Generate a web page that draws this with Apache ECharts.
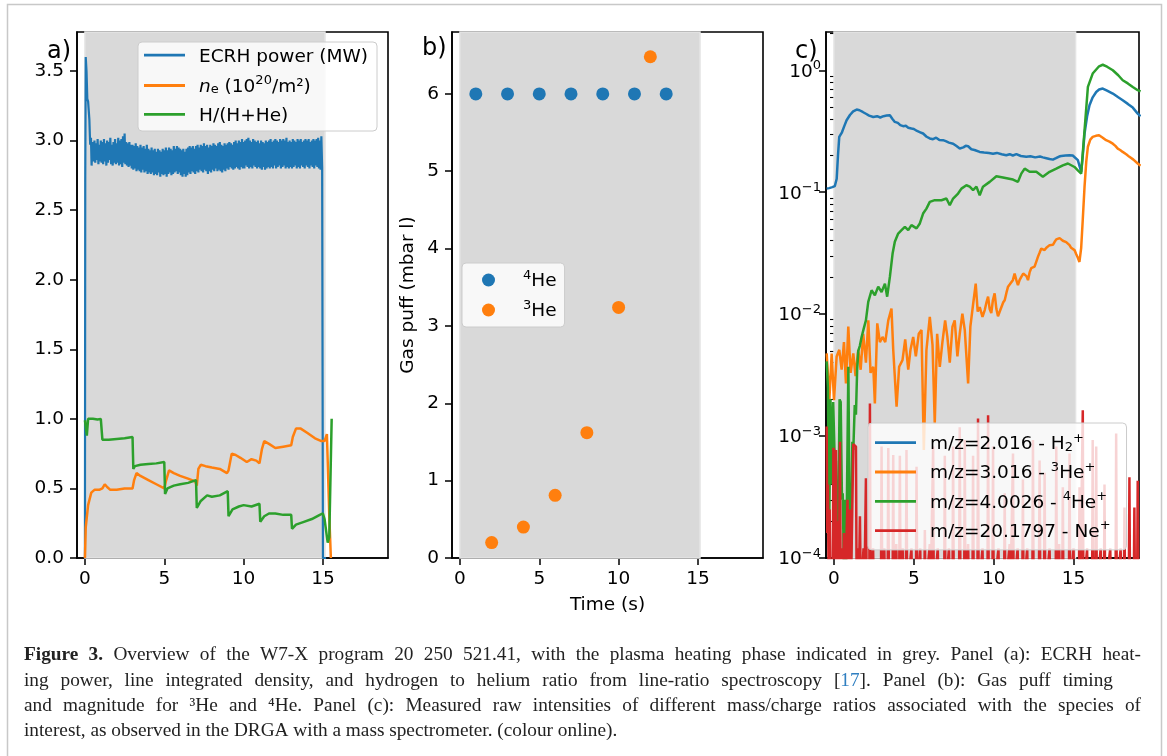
<!DOCTYPE html>
<html><head><meta charset="utf-8">
<script src="https://cdn.jsdelivr.net/npm/echarts@6/dist/echarts.min.js"></script>
<style>html,body{margin:0;padding:0;background:#fff}#c{width:1167px;height:756px}</style>
</head><body><div id="c"></div>
<script>
// ---------------- DATA ----------------
const xTicks = [0, 5, 10, 15];
const yTicksA = [0, 0.5, 1, 1.5, 2, 2.5, 3, 3.5];
const yTicksB = [0, 1, 2, 3, 4, 5, 6];
const yTicksC = [1e-4, 1e-3, 1e-2, 1e-1, 1];
const yMinorC = [2e-4,3e-4,4e-4,5e-4,6e-4,7e-4,8e-4,9e-4,2e-3,3e-3,4e-3,5e-3,6e-3,7e-3,8e-3,9e-3,
                 0.02,0.03,0.04,0.05,0.06,0.07,0.08,0.09,0.2,0.3,0.4,0.5,0.6,0.7,0.8,0.9,2];
const xRange = [-0.5, 19.1];
const yRangeA = [0, 3.78];
const yRangeB = [0, 6.8];
const yRangeC = [1e-4, 2.06];
const heatingPhase = [0, 15.13];

// Panel (a): [time (s), value]
const ecrhPower = [
[0,0],[0.02,2.7],[0.05,3.6],[0.1,3.5],[0.15,3.3],[0.2,3.28],[0.28,3.15],[0.33,2.97],[0.38,3.02],[0.42,2.82],[0.47,2.97],
[0.5,2.99],[0.55,2.85],[0.6,3.0],[0.65,2.84],[0.7,2.98],[0.75,2.86],[0.8,3.01],[0.85,2.83],[0.9,2.97],[0.95,2.85],
[1.0,3.0],[1.05,2.84],[1.1,2.99],[1.15,2.83],[1.2,3.01],[1.25,2.85],[1.3,2.98],[1.35,2.82],[1.4,3.0],[1.45,2.84],
[1.5,2.99],[1.55,2.86],[1.6,3.02],[1.65,2.83],[1.7,2.97],[1.75,2.82],[1.8,2.99],[1.85,2.84],[1.9,3.01],[1.95,2.83],
[2.0,2.98],[2.05,2.84],[2.1,3.02],[2.15,2.82],[2.2,3.0],[2.25,2.83],[2.3,3.01],[2.35,2.81],[2.4,3.03],[2.45,2.84],
[2.5,3.05],[2.55,2.83],[2.6,2.99],[2.65,2.82],[2.7,2.98],[2.75,2.81],[2.8,2.99],[2.85,2.82],[2.9,2.97],[2.95,2.8],
[3.0,2.97],[3.05,2.79],[3.1,2.96],[3.15,2.8],[3.2,2.98],[3.25,2.78],[3.3,2.96],[3.35,2.79],[3.4,2.95],[3.45,2.78],
[3.5,2.97],[3.55,2.77],[3.6,2.95],[3.65,2.79],[3.7,2.96],[3.75,2.77],[3.8,2.94],[3.85,2.78],[3.9,2.97],[3.95,2.76],
[4.0,2.94],[4.05,2.77],[4.1,2.93],[4.15,2.76],[4.2,2.95],[4.25,2.77],[4.3,2.93],[4.35,2.75],[4.4,2.94],[4.45,2.76],
[4.5,2.92],[4.55,2.75],[4.6,2.94],[4.65,2.77],[4.7,2.93],[4.75,2.74],[4.8,2.92],[4.85,2.76],[4.9,2.94],[4.95,2.75],
[5.0,2.93],[5.05,2.76],[5.1,2.95],[5.15,2.74],[5.2,2.93],[5.25,2.76],[5.3,2.95],[5.35,2.77],[5.4,2.94],[5.45,2.75],
[5.5,2.93],[5.55,2.76],[5.6,2.96],[5.65,2.77],[5.7,2.94],[5.75,2.78],[5.8,2.96],[5.85,2.76],[5.9,2.95],[5.95,2.77],
[6.0,2.94],[6.05,2.75],[6.1,2.93],[6.15,2.74],[6.2,2.94],[6.25,2.76],[6.3,2.92],[6.35,2.74],[6.4,2.94],[6.45,2.75],
[6.5,2.95],[6.55,2.77],[6.6,2.96],[6.65,2.76],[6.7,2.95],[6.75,2.78],[6.8,2.96],[6.85,2.77],[6.9,2.94],[6.95,2.76],
[7.0,2.96],[7.05,2.78],[7.1,2.97],[7.15,2.77],[7.2,2.95],[7.25,2.79],[7.3,2.97],[7.35,2.78],[7.4,2.96],[7.45,2.77],
[7.5,2.98],[7.55,2.79],[7.6,2.96],[7.65,2.78],[7.7,2.97],[7.75,2.76],[7.8,2.95],[7.85,2.78],[7.9,2.97],[7.95,2.77],
[8.0,2.96],[8.05,2.79],[8.1,2.98],[8.15,2.78],[8.2,2.97],[8.25,2.8],[8.3,2.96],[8.35,2.78],[8.4,2.98],[8.45,2.79],
[8.5,2.99],[8.55,2.78],[8.6,2.97],[8.65,2.77],[8.7,2.96],[8.75,2.79],[8.8,2.98],[8.85,2.78],[8.9,2.97],[8.95,2.8],
[9.0,2.98],[9.05,2.79],[9.1,2.99],[9.15,2.81],[9.2,2.98],[9.25,2.8],[9.3,2.97],[9.35,2.79],[9.4,2.99],[9.45,2.8],
[9.5,3.0],[9.55,2.81],[9.6,2.98],[9.65,2.8],[9.7,3.0],[9.75,2.79],[9.8,2.99],[9.85,2.81],[9.9,3.01],[9.95,2.8],
[10.0,2.99],[10.05,2.8],[10.1,3.0],[10.15,2.82],[10.2,3.01],[10.25,2.81],[10.3,3.02],[10.35,2.8],[10.4,3.0],[10.45,2.81],
[10.5,2.99],[10.55,2.8],[10.6,3.01],[10.65,2.82],[10.7,3.0],[10.75,2.81],[10.8,2.99],[10.85,2.8],[10.9,3.0],[10.95,2.81],
[11.0,2.98],[11.05,2.8],[11.1,3.0],[11.15,2.79],[11.2,2.99],[11.25,2.81],[11.3,2.98],[11.35,2.79],[11.4,3.0],[11.45,2.8],
[11.5,2.99],[11.55,2.81],[11.6,3.0],[11.65,2.8],[11.7,3.01],[11.75,2.81],[11.8,2.99],[11.85,2.8],[11.9,3.0],[11.95,2.82],
[12.0,3.01],[12.05,2.8],[12.1,3.0],[12.15,2.81],[12.2,2.99],[12.25,2.82],[12.3,3.01],[12.35,2.8],[12.4,3.0],[12.45,2.81],
[12.5,3.01],[12.55,2.82],[12.6,3.0],[12.65,2.8],[12.7,3.02],[12.75,2.81],[12.8,2.99],[12.85,2.8],[12.9,3.0],[12.95,2.81],
[13.0,2.99],[13.05,2.8],[13.1,3.01],[13.15,2.81],[13.2,3.0],[13.25,2.82],[13.3,2.99],[13.35,2.8],[13.4,3.01],[13.45,2.81],
[13.5,3.0],[13.55,2.8],[13.6,3.01],[13.65,2.82],[13.7,2.99],[13.75,2.81],[13.8,3.0],[13.85,2.8],[13.9,3.01],[13.95,2.82],
[14.0,3.0],[14.05,2.81],[14.1,3.01],[14.15,2.8],[14.2,2.99],[14.25,2.82],[14.3,3.0],[14.35,2.81],[14.4,3.01],[14.45,2.8],
[14.5,3.0],[14.55,2.82],[14.6,3.01],[14.65,2.81],[14.7,3.02],[14.75,2.8],[14.8,3.0],[14.85,2.79],[14.9,3.03],[14.95,2.8],
[15.0,0],[15.2,0]
];
const lineDensity = [
[0,0],[0.05,0.22],[0.2,0.38],[0.4,0.47],[0.6,0.49],[0.9,0.49],[1.1,0.5],[1.25,0.53],[1.4,0.51],[1.6,0.49],[2.0,0.49],
[2.5,0.5],[3.0,0.5],[3.1,0.56],[3.25,0.61],[3.5,0.59],[4.0,0.56],[4.5,0.53],[5.0,0.5],[5.1,0.55],[5.3,0.63],[5.6,0.61],
[6.0,0.59],[6.5,0.57],[6.95,0.55],[7.05,0.52],[7.15,0.64],[7.3,0.67],[7.6,0.66],[8.0,0.65],[8.5,0.64],[8.95,0.61],
[9.05,0.63],[9.25,0.75],[9.5,0.74],[9.8,0.72],[10.2,0.69],[10.5,0.71],[10.8,0.7],[11.0,0.68],[11.15,0.78],[11.3,0.84],
[11.6,0.82],[12.0,0.79],[12.5,0.8],[13.0,0.81],[13.1,0.87],[13.3,0.93],[13.6,0.93],[14.0,0.9],[14.5,0.86],[14.9,0.84],
[15.1,0.84],[15.25,0.89],[15.4,0.3],[15.5,0]
];
const hydrogenRatio = [
[0,0.99],[0.05,1.0],[0.12,0.88],[0.2,1.0],[0.5,1.0],[0.8,0.995],[1.0,1.0],[1.07,0.99],[1.1,0.85],[1.5,0.85],[2.0,0.855],
[2.5,0.86],[3.0,0.87],[3.05,0.64],[3.15,0.66],[3.5,0.67],[4.0,0.675],[4.5,0.68],[5.0,0.69],[5.05,0.46],[5.2,0.5],
[5.6,0.52],[6.0,0.53],[6.5,0.54],[7.0,0.56],[7.05,0.36],[7.3,0.41],[7.7,0.45],[8.0,0.44],[8.5,0.45],[9.0,0.48],
[9.05,0.3],[9.3,0.35],[9.7,0.37],[10.0,0.38],[10.5,0.37],[11.0,0.39],[11.05,0.26],[11.3,0.3],[11.6,0.32],[12.0,0.32],
[12.5,0.31],[13.0,0.31],[13.05,0.21],[13.3,0.24],[13.8,0.26],[14.3,0.28],[14.8,0.31],[15.0,0.32],[15.1,0.28],
[15.3,0.11],[15.4,0.15],[15.55,1.0]
];

// Panel (b): gas puffs
const he4Time = [1, 3, 5, 7, 9, 11, 13];
const he4Puff = [6, 6, 6, 6, 6, 6, 6];
const he3Time = [2, 4, 6, 8, 10, 12];
const he3Puff = [0.2, 0.4, 0.81, 1.62, 3.24, 6.48];

// Panel (c): mass spectrometer raw intensities [time (s), intensity]
const mz2 = [
[-0.46,0.107],[-0.3,0.108],[-0.1,0.11],[0.05,0.112],[0.17,0.129],[0.25,0.2],[0.33,0.284],[0.5,0.31],[0.65,0.35],
[0.79,0.389],[1.0,0.43],[1.2,0.46],[1.42,0.476],[1.6,0.47],[1.8,0.455],[2.0,0.44],[2.2,0.425],[2.46,0.414],[2.7,0.42],
[2.9,0.41],[3.1,0.42],[3.3,0.425],[3.5,0.427],[3.65,0.4],[3.81,0.377],[4.0,0.37],[4.15,0.355],[4.33,0.348],[4.5,0.35],
[4.65,0.338],[4.85,0.333],[5.0,0.33],[5.2,0.318],[5.4,0.31],[5.58,0.303],[5.8,0.285],[6.0,0.276],[6.2,0.272],[6.4,0.28],
[6.6,0.268],[6.83,0.267],[7.0,0.262],[7.2,0.255],[7.46,0.25],[7.65,0.24],[7.875,0.228],[8.1,0.233],[8.25,0.24],[8.4,0.238],
[8.6,0.225],[8.8,0.222],[9.125,0.214],[9.4,0.212],[9.7,0.21],[9.96,0.207],[10.2,0.21],[10.5,0.205],[10.79,0.201],[11.0,0.205],
[11.2,0.2],[11.42,0.205],[11.7,0.198],[12.04,0.195],[12.3,0.197],[12.6,0.193],[12.9,0.196],[13.08,0.193],[13.3,0.19],
[13.5,0.187],[13.71,0.185],[13.9,0.19],[14.1,0.196],[14.23,0.198],[14.5,0.2],[14.75,0.201],[14.95,0.2],[15.06,0.198],
[15.27,0.183],[15.4,0.16],[15.48,0.147],[15.58,0.2],[15.69,0.303],[15.85,0.42],[16.0,0.517],[16.2,0.6],[16.42,0.664],
[16.6,0.695],[16.83,0.708],[17.1,0.68],[17.46,0.644],[17.8,0.6],[18.08,0.568],[18.4,0.53],[18.71,0.494],[19.02,0.441],[19.2,0.42]
];
const mz3 = [
[-0.458,0.00476],[-0.29,0.00197],[-0.146,0.00476],[0.0,0.00197],[0.167,0.0045],[0.333,0.0051],[0.479,0.0035],[0.625,0.0059],
[0.75,0.0027],[0.896,0.0079],[1.04,0.0033],[1.21,0.00476],[1.35,0.0031],[1.52,0.0051],[1.67,0.0035],[1.83,0.0069],[2.0,0.004],
[2.15,0.0089],[2.29,0.0033],[2.46,0.0037],[2.56,0.00185],[2.71,0.0084],[2.875,0.0059],[3.04,0.0065],[3.21,0.0059],[3.4,0.0089],
[3.6,0.0111],[3.71,0.0051],[3.92,0.00174],[4.08,0.0037],[4.29,0.0042],[4.46,0.0062],[4.65,0.0035],[4.79,0.0051],[4.96,0.0065],
[5.125,0.0045],[5.31,0.0069],[5.48,0.0074],[5.625,0.00077],[5.79,0.0051],[6.0,0.0095],[6.17,0.0056],[6.31,0.00127],[6.46,0.0069],
[6.625,0.0037],[6.79,0.0059],[6.96,0.0089],[7.1,0.0065],[7.25,0.004],[7.42,0.0079],[7.56,0.0089],[7.73,0.0045],[7.875,0.0069],
[8.04,0.0101],[8.19,0.0074],[8.4,0.0027],[8.54,0.0079],[8.71,0.012],[8.875,0.0178],[9.0,0.0105],[9.125,0.0114],[9.3,0.0095],
[9.44,0.0108],[9.55,0.0125],[9.65,0.0139],[9.75,0.011],[9.85,0.0102],[9.95,0.013],[10.06,0.0148],[10.17,0.011],[10.27,0.0096],
[10.38,0.0105],[10.48,0.0108],[10.6,0.0125],[10.69,0.013],[10.8,0.015],[10.9,0.0168],[11.0,0.0175],[11.1,0.0178],[11.2,0.019],
[11.31,0.0215],[11.42,0.019],[11.52,0.0173],[11.62,0.019],[11.73,0.0202],[11.85,0.0215],[11.94,0.0215],[12.05,0.0205],
[12.15,0.019],[12.25,0.022],[12.35,0.0238],[12.45,0.024],[12.56,0.0245],[12.67,0.027],[12.77,0.0295],[12.88,0.032],
[12.98,0.0345],[13.08,0.0335],[13.19,0.0335],[13.3,0.035],[13.4,0.036],[13.5,0.0368],[13.6,0.038],[13.71,0.037],[13.81,0.039],
[13.92,0.041],[14.02,0.04],[14.13,0.042],[14.23,0.041],[14.33,0.04],[14.44,0.0405],[14.54,0.039],[14.65,0.038],[14.75,0.0368],
[14.85,0.035],[14.95,0.0345],[15.06,0.0335],[15.17,0.031],[15.27,0.029],[15.37,0.0268],[15.48,0.035],[15.58,0.06],[15.69,0.111],
[15.8,0.18],[15.9,0.236],[16.05,0.27],[16.2,0.284],[16.4,0.29],[16.6,0.293],[16.83,0.28],[17.04,0.267],[17.25,0.26],[17.46,0.25],
[17.62,0.24],[17.77,0.228],[17.92,0.222],[18.08,0.214],[18.3,0.205],[18.5,0.195],[18.75,0.185],[19.02,0.172],[19.2,0.165]
];
const mz4 = [
[-0.46,0.0041],[-0.38,0.0025],[-0.3,0.00016],[-0.22,0.002],[-0.15,0.0004],[-0.05,0.0019],[0.05,0.0006],[0.12,0.00063],
[0.2,0.00012],[0.27,0.0002],[0.35,0.002],[0.42,0.0019],[0.5,0.0003],[0.55,0.00034],[0.62,0.00008],[0.69,0.0003],[0.75,0.00006],
[0.82,0.0004],[0.9,0.0037],[0.98,0.0002],[1.06,0.0001],[1.15,0.0009],[1.21,0.00077],[1.3,0.0018],[1.375,0.0015],[1.45,0.0035],
[1.52,0.005],[1.62,0.0055],[1.73,0.0065],[1.85,0.0075],[2.0,0.0089],[2.146,0.0126],[2.354,0.0157],[2.56,0.0143],[2.77,0.0168],
[2.98,0.0152],[3.19,0.0178],[3.33,0.0139],[3.5,0.0202],[3.67,0.0314],[3.81,0.0392],[4.02,0.0458],[4.23,0.0488],[4.44,0.052],
[4.65,0.0488],[4.85,0.0537],[5.17,0.0505],[5.375,0.0554],[5.58,0.0668],[5.79,0.0734],[6.0,0.0833],[6.31,0.086],[6.73,0.086],
[7.04,0.0887],[7.25,0.0782],[7.46,0.0887],[7.77,0.0975],[7.98,0.107],[8.29,0.114],[8.5,0.111],[8.71,0.104],[8.92,0.111],
[9.125,0.0944],[9.33,0.111],[9.75,0.1215],[10.17,0.135],[10.58,0.132],[11.21,0.127],[11.52,0.1215],[11.73,0.142],[11.94,0.156],
[12.25,0.147],[12.67,0.147],[13.08,0.134],[13.5,0.147],[13.92,0.156],[14.33,0.166],[14.65,0.172],[15.06,0.161],[15.27,0.151],
[15.48,0.142],[15.69,0.322],[15.9,0.73],[16.2,0.94],[16.6,1.078],[16.83,1.11],[17.1,1.07],[17.46,1.0],[17.8,0.91],[18.08,0.828],
[18.4,0.78],[18.71,0.73],[19.02,0.686],[19.2,0.67]
];
const mz20 = [
[-0.46,0.0012],[-0.42,0.00016],[-0.38,0.0004],[-0.33,0.00005],[-0.27,0.00025],[-0.22,0.00005],[-0.08,0.00005],[-0.04,0.0008],
[0.0,0.00077],[0.04,0.00005],[0.09,0.00005],[0.125,0.00077],[0.17,0.00005],[0.25,0.0002],[0.3,0.00005],[0.375,0.0009],[0.42,0.00005],
[0.5,0.00012],[0.55,0.00005],[0.62,0.00016],[0.68,0.00005],[0.8,0.00005],[0.85,0.0003],[0.9,0.00005],[1.0,0.00025],[1.06,0.00005],
[1.17,0.00005],[1.21,0.00086],[1.3,0.00086],[1.375,0.00082],[1.42,0.00005],[1.5,0.00012],[1.55,0.00005],[1.625,0.00022],
[1.68,0.00005],[1.85,0.00012],[1.9,0.00005],[2.0,0.00045],[2.05,0.00005],[2.21,0.00005],[2.25,0.00185],[2.29,0.00005],
[2.45,0.00012],[2.5,0.00005],[2.94,0.00005],[2.98,0.00082],[3.02,0.00005],[3.15,0.00012],[3.2,0.00005],[3.36,0.00005],[3.4,0.0008],
[3.44,0.00005],[3.67,0.00005],[3.71,0.0007],[3.75,0.00005],[3.9,0.00013],[3.95,0.00005],[4.08,0.00005],[4.125,0.00069],[4.17,0.00005],
[4.3,0.00012],[4.35,0.00005],[4.5,0.00005],[4.54,0.00077],[4.58,0.00005],[4.85,0.00012],[4.9,0.00005],[5.13,0.00005],[5.17,0.00056],
[5.21,0.00005],[5.4,0.00012],[5.45,0.00005],[5.65,0.00005],[5.69,0.00017],[5.73,0.00005],[6.0,0.00013],[6.05,0.00005],[6.17,0.00005],
[6.21,0.00082],[6.25,0.00005],[6.5,0.00012],[6.55,0.00005],[6.9,0.00005],[6.94,0.00069],[6.98,0.00005],[7.2,0.00012],[7.25,0.00005],
[7.42,0.00005],[7.46,0.00082],[7.5,0.00005],[7.83,0.00005],[7.875,0.00118],[7.92,0.00005],[8.15,0.00005],[8.19,0.00093],[8.23,0.00005],
[8.4,0.00013],[8.45,0.00005],[8.67,0.00005],[8.71,0.00069],[8.75,0.00005],[8.98,0.00005],[9.02,0.00139],[9.06,0.00005],[9.3,0.00012],
[9.35,0.00005],[9.61,0.00005],[9.65,0.00148],[9.69,0.00005],[9.92,0.00005],[9.96,0.00082],[10.0,0.00005],[10.3,0.00012],[10.35,0.00005],
[10.65,0.00005],[10.69,0.00034],[10.73,0.00005],[11.0,0.00013],[11.05,0.00005],[11.17,0.00005],[11.21,0.00072],[11.25,0.00005],
[11.5,0.00012],[11.55,0.00005],[11.79,0.00005],[11.83,0.00044],[11.87,0.00005],[12.1,0.00012],[12.15,0.00005],[12.42,0.00005],
[12.46,0.00093],[12.5,0.00005],[12.83,0.00005],[12.875,0.00063],[12.92,0.00005],[13.15,0.00005],[13.19,0.0005],[13.23,0.00005],
[13.5,0.00012],[13.55,0.00005],[13.88,0.00005],[13.92,0.00082],[13.96,0.00005],[14.1,0.00013],[14.15,0.00005],[14.29,0.00005],
[14.33,0.00038],[14.37,0.00005],[14.71,0.00005],[14.75,0.00072],[14.79,0.00005],[15.0,0.00012],[15.05,0.00005],[15.33,0.00005],
[15.375,0.00038],[15.42,0.00005],[15.54,0.00005],[15.58,0.00163],[15.62,0.00005],[15.85,0.00012],[15.9,0.00005],[16.16,0.00005],
[16.2,0.00093],[16.24,0.00005],[16.38,0.00005],[16.42,0.00082],[16.46,0.00005],[16.7,0.00012],[16.75,0.00005],[16.9,0.00005],
[16.94,0.0004],[16.98,0.00005],[17.3,0.00012],[17.35,0.00005],[17.63,0.00005],[17.67,0.00105],[17.71,0.00005],[17.95,0.00012],
[18.0,0.00005],[18.15,0.00005],[18.19,0.00026],[18.23,0.00005],[18.46,0.00005],[18.5,0.00046],[18.54,0.00005],[18.77,0.00005],
[18.81,0.00026],[18.85,0.00005],[18.98,0.00005],[19.02,0.00043],[19.06,0.00005],[19.2,0.00005]
];

// Caption lines: [text, style] segments
const captionLines = [
  [['Figure 3.', 'b'], [' Overview of the W7-X program 20 250 521.41, with the plasma heating phase indicated in grey. Panel (a): ECRH heat-', 'n']],
  [['ing power, line integrated density, and hydrogen to helium ratio from line-ratio spectroscopy [', 'n'], ['17', 'l'], ['].', 'n'], [' Panel (b): Gas puff timing', 'n']],
  [['and magnitude for \u00B3He and \u2074He. Panel (c): Measured raw intensities of different mass/charge ratios associated with the species of', 'n']],
  [['interest, as observed in the DRGA with a mass spectrometer. (colour online).', 'n']]
];
const captionWidths = [1117, 1089, 1117, null];

// ---------------- STYLE ----------------
const FONT = 'DejaVu Sans';
const COL = {blue:'#1f77b4', orange:'#ff7f0e', green:'#2ca02c', red:'#d62728'};
const FS = 18.5;
const rich = {
  g:  {width: 9, fontSize: FS, fontFamily: FONT},
  t:  {fontSize: FS, fontFamily: FONT, color:'#000', lineHeight: 22, verticalAlign:'bottom'},
  ti: {fontSize: FS, fontFamily: FONT, color:'#000', fontStyle:'italic', lineHeight: 22, verticalAlign:'bottom'},
  sp: {fontSize: 13, fontFamily: FONT, color:'#000', verticalAlign:'top'},
  sb: {fontSize: 13, fontFamily: FONT, color:'#000', verticalAlign:'bottom'}
};
const legendLabels = {
  'ECRH power (MW)': '{g| }{t|ECRH power (MW)}',
  'n_e': '{g| }{ti|n}{sb|e}{t| (10}{sp|20}{t|/m²)}',
  'H/(H+He)': '{g| }{t|H/(H+He)}',
  '4He': '{g| }{sp|4}{t|He}',
  '3He': '{g| }{sp|3}{t|He}',
  'mz2': '{g| }{t|m/z=2.016 - H}{sb|2}{sp|+}',
  'mz3': '{g| }{t|m/z=3.016 - }{sp|3}{t|He}{sp|+}',
  'mz4': '{g| }{t|m/z=4.0026 - }{sp|4}{t|He}{sp|+}',
  'mz20': '{g| }{t|m/z=20.1797 - Ne}{sp|+}'
};

const gridDefs = [
  {left:77, top:32, width:311, height:526},
  {left:452, top:32, width:311, height:526},
  {left:826, top:32, width:313, height:526}
];
const grids = gridDefs.map(g => Object.assign({show:true, borderColor:'#000', borderWidth:1.6,
  backgroundColor:'rgba(0,0,0,0)', containLabel:false, outerBoundsMode:'none'}, g));

function makeX(i, extra) {
  return Object.assign({
    type:'value', gridIndex:i, min:xRange[0], max:xRange[1],
    axisLine:{show:true, onZero:false, lineStyle:{color:'#000', width:1.6}},
    axisTick:{show:true, length:7, lineStyle:{color:'#000', width:1.5}, customValues:xTicks},
    axisLabel:{margin:12, fontSize:FS, fontFamily:FONT, color:'#000', customValues:xTicks},
    splitLine:{show:false}
  }, extra || {});
}
function makeY(i, type, range, ticks, fmt, extra) {
  return Object.assign({
    type:type, gridIndex:i, min:range[0], max:range[1], position:'left',
    axisLine:{show:true, onZero:false, lineStyle:{color:'#000', width:1.6}},
    axisTick:{show:true, length:7, lineStyle:{color:'#000', width:1.5}, customValues:ticks},
    axisLabel:{margin:13, fontSize:FS, fontFamily:FONT, color:'#000', customValues:ticks, formatter:fmt, rich:rich},
    splitLine:{show:false}
  }, extra || {});
}
const shade = {silent:true, itemStyle:{color:'#d9d9d9', borderColor:'#e4e4e4', borderWidth:1.5},
  label:{show:false}, data:[[{xAxis:heatingPhase[0]}, {xAxis:heatingPhase[1]}]]};

function line(name, data, color, xi, yi, extra) {
  return Object.assign({type:'line', name:name, data:data, xAxisIndex:xi, yAxisIndex:yi,
    symbol:'none', showSymbol:false, lineStyle:{color:color, width:2.5}, itemStyle:{color:color},
    z:3, animation:false}, extra || {});
}
function zip(a, b) { return a.map((v, i) => [v, b[i]]); }

function legendBox(names, left, top, padding, gap, extra) {
  return Object.assign({data:names, orient:'vertical', left:left, top:top, padding:padding, itemGap:gap,
    itemWidth:41, itemHeight:13, selectedMode:false,
    backgroundColor:'rgba(255,255,255,0.8)', borderColor:'#cccccc', borderWidth:1, borderRadius:4,
    formatter: n => legendLabels[n], textStyle:{fontSize:FS, fontFamily:FONT, color:'#000', rich:rich}}, extra || {});
}

const logFmt = v => { const e = Math.round(Math.log10(v)); return '{t|10}{sp|' + (e < 0 ? '\u2212' + (-e) : e) + '}'; };

// caption (justified like the journal layout)
const CAPF = 'Liberation Serif', CAPS = 19.3;
const mctx = document.createElement('canvas').getContext('2d');
function capWidth(txt, st) { mctx.font = (st === 'b' ? 'bold ' : '') + CAPS + 'px "' + CAPF + '"'; return mctx.measureText(txt).width; }
function captionElement(segs, y, target) {
  const toks = [];
  segs.forEach(([txt, st]) => {
    txt.split(' ').forEach((w, wi) => { toks.push({w: w, st: st, gap: wi > 0}); });
  });
  const base = {fontSize:CAPS, fontFamily:CAPF, fill:'#222'};
  let total = 0, gaps = 0;
  toks.forEach(t => { total += capWidth(t.w, t.st); if (t.gap) gaps++; });
  const sw = target ? (target - total) / gaps : capWidth(' ', 'n');
  let str = '';
  toks.forEach(t => { if (t.gap) str += '{s| }'; if (t.w) str += '{' + t.st + '|' + t.w + '}'; });
  return {type:'text', x:24, y:y, silent:true, style:Object.assign({text:str, verticalAlign:'middle',
    rich:{n:Object.assign({}, base), b:Object.assign({fontWeight:'bold'}, base),
          l:Object.assign({}, base, {fill:'#2f7fc1'}), s:Object.assign({width:sw}, base)}}, base)};
}
const captionY = [655, 681, 706, 731];

const option = {
  animation:false,
  backgroundColor:'#fff',
  grid: grids,
  xAxis: [
    makeX(0),
    makeX(1, {name:'Time (s)', nameLocation:'middle', nameGap:38,
      nameTextStyle:{fontSize:FS, fontFamily:FONT, color:'#000'}}),
    makeX(2)
  ],
  yAxis: [
    makeY(0, 'value', yRangeA, yTicksA, v => v.toFixed(1)),
    makeY(1, 'value', yRangeB, yTicksB, v => String(v), {name:'Gas puff (mbar l)', nameLocation:'middle',
      nameGap:34, nameRotate:90, nameTextStyle:{fontSize:FS, fontFamily:FONT, color:'#000'}}),
    makeY(2, 'log', yRangeC, yTicksC, logFmt, {logBase:10, axisLabel:{margin:5, fontSize:FS, fontFamily:FONT,
      color:'#000', customValues:yTicksC, formatter:logFmt, rich:rich}}),
    {type:'log', logBase:10, gridIndex:2, min:yRangeC[0], max:yRangeC[1], position:'left',
      axisLine:{show:false}, axisLabel:{show:false}, splitLine:{show:false},
      axisTick:{show:true, length:4, lineStyle:{color:'#000', width:1.1}, customValues:yMinorC}}
  ],
  legend: [
    legendBox(['ECRH power (MW)', 'n_e', 'H/(H+He)'], 138, 42, [3.7, 9, 5.7, 6], 8.3, {icon:'rect', itemHeight:2.8}),
    legendBox(['4He', '3He'], 462, 263, [6, 8, 6, 20], 8),
    legendBox(['mz2', 'mz3', 'mz4', 'mz20'], 868, 423, [8.7, 16, 8.3, 7], 7.3, {icon:'rect', itemHeight:2.8})
  ],
  series: [
    line('ECRH power (MW)', ecrhPower, COL.blue, 0, 0, {markArea:shade, lineStyle:{color:COL.blue, width:2.2}}),
    line('n_e', lineDensity, COL.orange, 0, 0),
    line('H/(H+He)', hydrogenRatio, COL.green, 0, 0),
    {type:'scatter', name:'4He', data:zip(he4Time, he4Puff), xAxisIndex:1, yAxisIndex:1, symbolSize:13,
      itemStyle:{color:COL.blue, opacity:1}, z:3, markArea:shade},
    {type:'scatter', name:'3He', data:zip(he3Time, he3Puff), xAxisIndex:1, yAxisIndex:1, symbolSize:13,
      itemStyle:{color:COL.orange, opacity:1}, z:3},
    line('mz2', mz2, COL.blue, 2, 2, {markArea:shade}),
    line('mz3', mz3, COL.orange, 2, 2),
    line('mz4', mz4, COL.green, 2, 2),
    line('mz20', mz20, COL.red, 2, 2)
  ],
  graphic: [
    {type:'rect', silent:true, shape:{x:7.5, y:4.5, width:1154, height:770},
      style:{fill:'none', stroke:'#c8c8c8', lineWidth:1.5}},
    {type:'text', x:47, y:52, style:{text:'a)', fontSize:24, fontFamily:FONT, fill:'#000', verticalAlign:'middle'}},
    {type:'text', x:422, y:49, style:{text:'b)', fontSize:24, fontFamily:FONT, fill:'#000', verticalAlign:'middle'}},
    {type:'text', x:795, y:52, style:{text:'c)', fontSize:24, fontFamily:FONT, fill:'#000', verticalAlign:'middle'}}
  ].concat(captionLines.map((segs, i) => captionElement(segs, captionY[i], captionWidths[i])))
};
const chart = echarts.init(document.getElementById('c'), null, {renderer:'canvas'});
chart.setOption(option);
</script></body></html>
